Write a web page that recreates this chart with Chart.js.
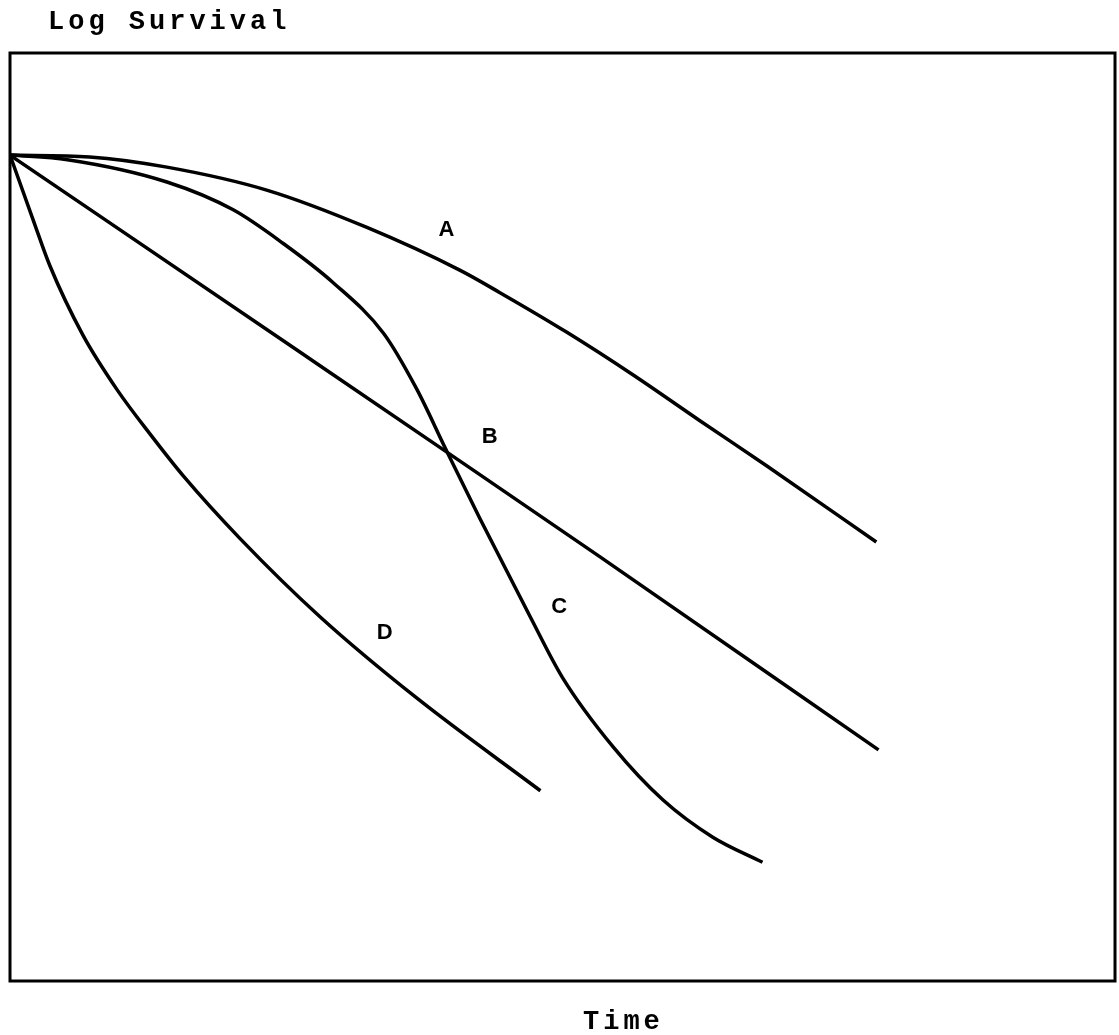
<!DOCTYPE html>
<html>
<head>
<meta charset="utf-8">
<script src="https://cdn.jsdelivr.net/npm/chart.js@4.4.1/dist/chart.umd.min.js"></script>
<style>
  html, body { margin: 0; padding: 0; background: #fff; }
  #wrap { width: 1119px; height: 1035px; position: relative; }
</style>
</head>
<body>
<div id="wrap"><canvas id="chart"></canvas></div>
<script>
// curve readings: time (0-10) vs log survival (0 = start)
const timeA = [0, 0.72, 1.42, 2.33, 3.23, 4.07, 4.43, 5.04, 5.64, 6.24, 6.85, 7.84];
const survA = [0, -0.02, -0.13, -0.38, -0.78, -1.24, -1.48, -1.91, -2.37, -2.86, -3.35, -4.17];

const timeB = [0, 2.62, 3.94, 5.34, 7.86];
const survB = [0, -2.12, -3.19, -4.33, -6.41];

const timeC = [0, 0.52, 1.42, 2.02, 2.47, 2.92, 3.38, 3.68, 3.94, 4.25, 4.71, 5.00, 5.46, 5.91, 6.36, 6.81];
const survC = [0, -0.05, -0.29, -0.59, -0.95, -1.37, -1.92, -2.52, -3.16, -3.91, -4.98, -5.63, -6.38, -6.95, -7.35, -7.62];

const timeD = [0, 0.21, 0.36, 0.66, 0.97, 1.27, 1.57, 2.08, 2.81, 3.68, 4.80];
const survD = [0, -0.70, -1.19, -1.94, -2.53, -3.01, -3.46, -4.13, -4.98, -5.85, -6.85];

// curve name labels, placed in data units
const curveNames = ['A', 'B', 'C', 'D'];
const nameTime = [3.95, 4.34, 4.97, 3.39];
const nameSurv = [-0.81, -3.04, -4.87, -5.15];

const pts = (xs, ys) => xs.map((x, i) => ({ x, y: ys[i] }));

function curve(label, xs, ys) {
  return {
    label,
    data: pts(xs, ys),
    borderColor: '#000',
    borderWidth: 3.5,
    pointRadius: 0,
    fill: false,
    cubicInterpolationMode: 'monotone'
  };
}

const frameAndText = {
  id: 'frameAndText',
  afterDraw(chart) {
    const { ctx, chartArea: a, scales } = chart;
    ctx.save();
    ctx.strokeStyle = '#000';
    ctx.lineWidth = 3;
    ctx.strokeRect(a.left, a.top, a.right - a.left, a.bottom - a.top);

    ctx.fillStyle = '#000';
    ctx.font = "bold 27px 'Liberation Mono', 'Courier New', monospace";
    ctx.letterSpacing = '4px';
    ctx.textAlign = 'left';
    ctx.textBaseline = 'alphabetic';
    ctx.fillText('Log Survival', 48, 29);
    ctx.fillText('Time', 583, 1029);

    ctx.letterSpacing = '0px';
    ctx.font = "bold 22px 'Liberation Sans', Arial, sans-serif";
    ctx.textAlign = 'center';
    ctx.textBaseline = 'middle';
    curveNames.forEach((n, i) => {
      ctx.fillText(n, scales.x.getPixelForValue(nameTime[i]), scales.y.getPixelForValue(nameSurv[i]));
    });
    ctx.restore();
  }
};

new Chart(document.getElementById('chart'), {
  type: 'line',
  data: {
    datasets: [
      curve('A', timeA, survA),
      curve('B', timeB, survB),
      curve('C', timeC, survC),
      curve('D', timeD, survD)
    ]
  },
  options: {
    responsive: true,
    maintainAspectRatio: false,
    animation: false,
    layout: { padding: { left: 10, right: 4, top: 53, bottom: 54 } },
    plugins: { legend: { display: false }, tooltip: { enabled: false } },
    scales: {
      x: { type: 'linear', min: 0, max: 10, display: false },
      y: { type: 'linear', min: -8.9, max: 1.1, display: false }
    }
  },
  plugins: [frameAndText]
});
</script>
</body>
</html>
